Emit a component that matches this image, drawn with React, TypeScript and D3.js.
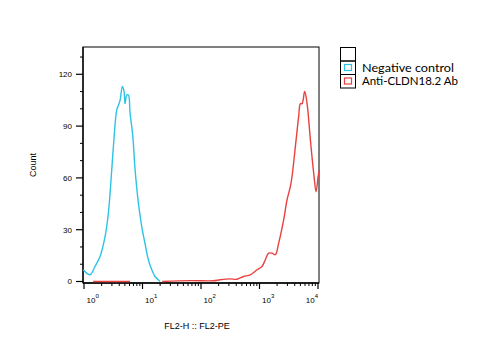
import React from "react";
import * as d3 from "d3";

// ---- data ----
const negX = [0.97, 1.27, 1.54, 1.88, 2.29, 2.61, 2.98, 3.18, 3.63, 3.87, 4.14, 4.53, 4.84, 5.03, 5.38, 5.74, 6.13, 6.83, 7.47, 8.5, 9.7, 11.0, 12.6, 14.4, 16.4, 20];
const negY = [6.8, 3.9, 8.7, 14.5, 26, 39.7, 64.7, 78, 99.4, 102, 105, 113, 110, 103, 108, 108, 97.6, 84, 64.7, 45.5, 31.8, 22.3, 12.6, 6.8, 2.9, 0];

const antiX = [1.43, 6.13, 10, 21.7, 65.3, 161.8, 213, 316, 412, 534, 695, 906, 1103, 1257, 1431, 1637, 1865, 2125, 2587, 2958, 3368, 3600, 4100, 4670, 5000, 5346, 5920, 6505, 7410, 8440, 9270, 10040, 10570];
const antiY: (number | null)[] = [0, 0, null, 0, 0.5, 0.4, 1, 1.5, 1.3, 2.9, 3.9, 6.8, 8.7, 12.6, 16.4, 16.4, 15.5, 22.2, 35.7, 47.3, 55, 60.8, 78, 95.5, 103, 103, 110, 103, 82, 62.8, 52, 60.8, 64.7];

const yTicks = [0, 30, 60, 90, 120];
const yMinor = [10, 20, 40, 50, 70, 80, 100, 110, 130];
const xDecades = [0, 1, 2, 3, 4];

const seriesNames = ["Negative control", "Anti-CLDN18.2 Ab"];
const seriesColors = ["#2cc3e6", "#e8413f"];

export default function App() {
  const left = 83, right = 319, top = 47, axisY = 283;
  const x = d3.scaleLog().domain([1, 1e4]).range([84, 318]);
  const y = d3.scaleLinear().domain([0, 30]).range([281.5, 229.7]);

  const negPts = negX.map((v, i) => [v, negY[i]] as [number, number]);
  const antiPts = antiX.map((v, i) => [v, antiY[i]] as [number, number | null]);

  const lineNeg = d3
    .line<[number, number]>()
    .x((d) => x(d[0]))
    .y((d) => y(d[1]))
    .curve(d3.curveCatmullRom.alpha(0.5));
  const lineAnti = d3
    .line<[number, number | null]>()
    .defined((d) => d[1] !== null)
    .x((d) => x(d[0]))
    .y((d) => y(d[1] as number))
    .curve(d3.curveCatmullRom.alpha(0.5));

  const minorX: number[] = [];
  for (let dcd = 0; dcd < 4; dcd++) {
    for (let k = 2; k <= 9; k++) minorX.push(k * Math.pow(10, dcd));
  }

  const font = "'Liberation Sans', Arial, sans-serif";

  return (
    <svg
      width={495}
      height={361}
      style={{ position: "absolute", left: 0, top: 0, background: "#fff" }}
    >
      <rect x={0} y={0} width={495} height={361} fill="#fff" />
      {/* frame */}
      <rect x={left} y={top} width={right - left} height={axisY - top} fill="none" stroke="#000" strokeWidth={1} />
      <line x1={left} x2={left} y1={top} y2={axisY} stroke="#000" strokeWidth={1.3} />
      <line x1={left} x2={right} y1={axisY} y2={axisY} stroke="#000" strokeWidth={1.3} />

      {/* y ticks */}
      {yTicks.map((t) => (
        <g key={"yt" + t}>
          <line x1={left - 7} x2={left} y1={y(t)} y2={y(t)} stroke="#000" strokeWidth={1.2} />
          <text x={72} y={y(t) + 2.8} fontSize={8} fontFamily={font} textAnchor="end" fill="#000">
            {t}
          </text>
        </g>
      ))}
      {yMinor.map((t) => (
        <line key={"ym" + t} x1={left - 3} x2={left} y1={y(t)} y2={y(t)} stroke="#000" strokeWidth={1} />
      ))}

      {/* x ticks */}
      {xDecades.map((dcd, i) => {
        const px = x(Math.pow(10, dcd));
        const last = i === xDecades.length - 1;
        return (
          <g key={"xt" + dcd}>
            <line x1={px} x2={px} y1={axisY} y2={axisY + 6} stroke="#000" strokeWidth={1.2} />
            <text
              x={last ? px : px + 2.5}
              y={303}
              fontSize={8}
              fontFamily={font}
              textAnchor={last ? "end" : "start"}
              fill="#000"
            >
              10
              <tspan fontSize={6} dy={-5}>
                {dcd}
              </tspan>
            </text>
          </g>
        );
      })}
      {minorX.map((v) => (
        <line key={"xm" + v} x1={x(v)} x2={x(v)} y1={axisY} y2={axisY + 3} stroke="#000" strokeWidth={1} />
      ))}

      {/* curves */}
      <path d={lineNeg(negPts) || ""} fill="none" stroke={seriesColors[0]} strokeWidth={1.4} />
      <path d={lineAnti(antiPts) || ""} fill="none" stroke={seriesColors[1]} strokeWidth={1.4} />

      {/* axis titles */}
      <text
        transform={`translate(36,165) rotate(-90)`}
        fontSize={9}
        fontFamily={font}
        textAnchor="middle"
        fill="#000"
      >
        Count
      </text>
      <text x={197} y={329} fontSize={9} fontFamily={font} textAnchor="middle" fill="#000">
        FL2-H :: FL2-PE
      </text>

      {/* legend */}
      <g>
        {[0, 1, 2].map((i) => (
          <rect
            key={"lb" + i}
            x={340.5}
            y={47.5 + i * 13.5}
            width={15}
            height={13.5}
            fill="none"
            stroke="#000"
            strokeWidth={1}
          />
        ))}
        {seriesNames.map((name, i) => (
          <g key={name}>
            <rect
              x={344.5}
              y={64.5 + i * 13.5}
              width={7}
              height={6}
              fill="none"
              stroke={seriesColors[i]}
              strokeWidth={1.2}
            />
            <text
              x={362}
              y={71.5 + i * 13}
              fontSize={10.8}
              fontFamily="Lato, 'Open Sans', sans-serif"
              fill="#000"
              textLength={i === 0 ? 92 : 96}
              lengthAdjust="spacingAndGlyphs"
            >
              {name}
            </text>
          </g>
        ))}
      </g>
    </svg>
  );
}
